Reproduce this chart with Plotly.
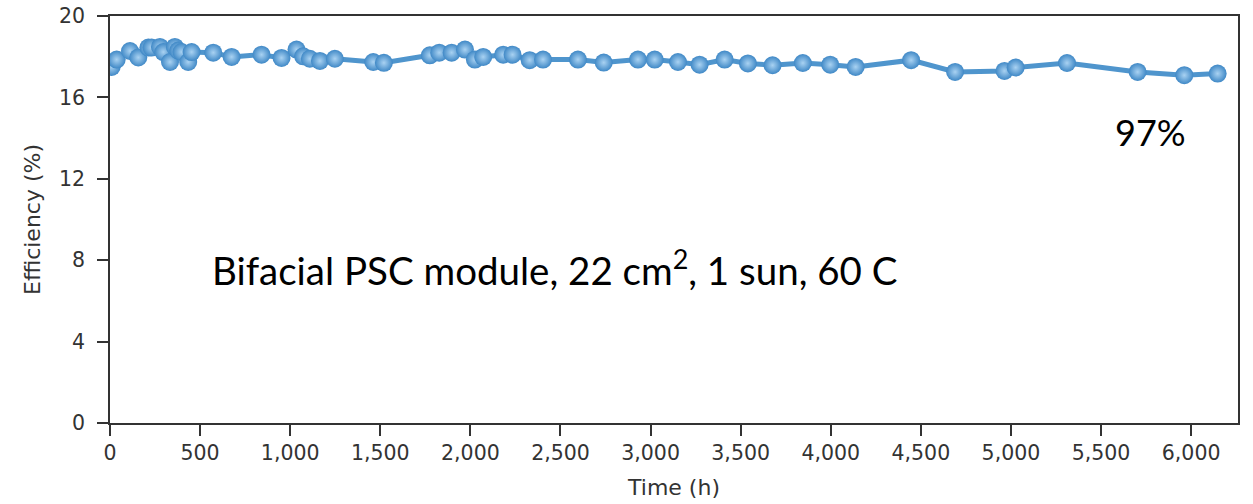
import plotly.graph_objects as go

time_h = [9, 37, 111, 157, 213, 231, 277, 296, 333, 360, 379, 397, 434, 453, 573, 675,
          841, 952, 1035, 1072, 1109, 1165, 1248, 1461, 1520, 1775, 1827, 1896, 1970, 2025,
          2071, 2182, 2234, 2329, 2403, 2597, 2740, 2930, 3023, 3152, 3272, 3411, 3540,
          3677, 3845, 3997, 4138, 4446, 4690, 4964, 5026, 5311, 5703, 5962, 6147]
efficiency = [17.5, 17.86, 18.28, 17.96, 18.45, 18.45, 18.48, 18.23, 17.74, 18.48, 18.3,
              18.23, 17.74, 18.23, 18.2, 17.99, 18.1, 17.94, 18.35, 18.02, 17.9, 17.79, 17.9,
              17.74, 17.7, 18.07, 18.2, 18.2, 18.35, 17.86, 17.99, 18.1, 18.1, 17.83, 17.86,
              17.86, 17.71, 17.86, 17.86, 17.74, 17.61, 17.86, 17.67, 17.58, 17.69, 17.61,
              17.5, 17.83, 17.25, 17.3, 17.47, 17.69, 17.25, 17.09, 17.17]

x_ticks = [0, 500, 1000, 1500, 2000, 2500, 3000, 3500, 4000, 4500, 5000, 5500, 6000]
x_tick_labels = ["0", "500", "1,000", "1,500", "2,000", "2,500", "3,000", "3,500",
                 "4,000", "4,500", "5,000", "5,500", "6,000"]
y_ticks = [0, 4, 8, 12, 16, 20]

annotation_main = "Bifacial PSC module, 22 cm<sup>2</sup>, 1 sun, 60 C"
annotation_ret = "97%"

AXFONT = "DejaVu Sans, Liberation Sans, sans-serif"
TXFONT = "Lato, Open Sans, sans-serif"

fig = go.Figure()
fig.add_trace(go.Scatter(
    x=time_h, y=efficiency, mode="lines+markers",
    line=dict(color="#4f95cd", width=5),
    marker=dict(size=18, color="#3f88c6", line=dict(width=0),
                gradient=dict(type="radial", color="#a9d2f2")),
    showlegend=False, hoverinfo="x+y",
))

fig.update_xaxes(
    range=[0, 6260], tickvals=x_ticks, ticktext=x_tick_labels, automargin=False,
    showgrid=False, zeroline=False, showline=True, linecolor="#333333", linewidth=1.5,
    mirror=True, ticks="outside", ticklen=11, tickwidth=1.5, tickcolor="#333333",
    tickfont=dict(family=AXFONT, size=20.5, color="#333333"),
    title=dict(text="Time (h)", font=dict(family=AXFONT, size=22, color="#333333"), standoff=15),
)
fig.update_yaxes(
    range=[0, 20], tickvals=y_ticks, automargin=False,
    showgrid=False, zeroline=False, showline=True, linecolor="#333333", linewidth=1.5,
    mirror=True, ticks="outside", ticklen=11, tickwidth=1.5, tickcolor="#333333",
    tickfont=dict(family=AXFONT, size=20.5, color="#333333"), ticklabelstandoff=8,
    title=dict(text="Efficiency (%)", font=dict(family=AXFONT, size=22, color="#333333"), standoff=12),
)

fig.add_annotation(x=0.394, y=0.383, xref="paper", yref="paper", text=annotation_main,
                   xanchor="center", yanchor="middle", showarrow=False,
                   font=dict(family=TXFONT, size=38.5, color="#000000"))
fig.add_annotation(x=0.922, y=0.715, xref="paper", yref="paper", text=annotation_ret,
                   xanchor="center", yanchor="middle", showarrow=False,
                   font=dict(family=TXFONT, size=36, color="#000000"))

fig.update_layout(
    width=1253, height=504,
    margin=dict(l=110, r=15, t=16, b=81),
    plot_bgcolor="white", paper_bgcolor="white",
)

fig.write_html("out.html")
